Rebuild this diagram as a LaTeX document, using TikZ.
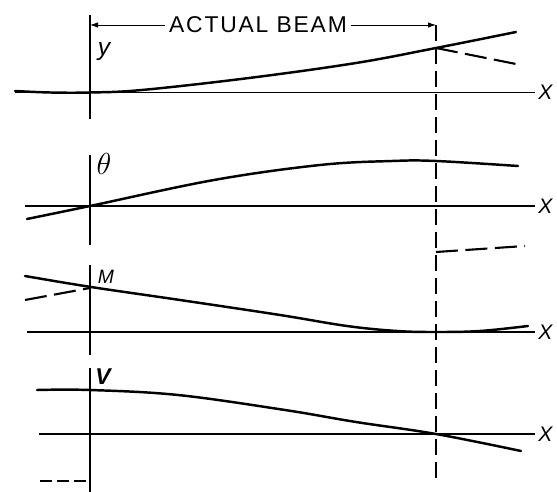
\documentclass[tikz,border=0pt]{standalone}
\usepackage{fontspec}
\newfontfamily\beamfont[LetterSpace=8]{Liberation Sans}
\newfontfamily\lblfont{Liberation Sans}
\usepackage{tikz}
\usetikzlibrary{arrows.meta}

\begin{document}
\begin{tikzpicture}[
  x=0.2mm, y=-0.2mm,
  axis/.style={line width=0.7pt},
  curve/.style={line width=1.4pt, line cap=round},
  ref/.style={line width=1pt},
  guide/.style={line width=0.9pt, dash pattern=on 3.2mm off 1.4mm},
  alt/.style={line width=1.2pt, dash pattern=on 4.4mm off 1.5mm},
  dim/.style={-{Latex[length=1.6mm,width=1.1mm]}, line width=0.5pt},
  lbl/.style={font=\lblfont\itshape\fontsize{14}{16}\selectfont, inner sep=0pt}
]
\useasboundingbox (0,0) rectangle (557,492);

% span of the beam
\coordinate (bl) at (90,25);
\coordinate (br) at (436,25);
\node[font=\beamfont\fontsize{13}{15}\selectfont, inner sep=2pt] (beam) at (258,25) {ACTUAL BEAM};
\draw[dim] (beam.west) -- (bl);
\draw[dim] (beam.east) -- (br);

% axes
\foreach \yy/\xs/\i in {92.5/15/1, 206/25/2, 332/27/3, 434/39/4} {
  \draw[axis] (\xs,\yy) -- (535,\yy) node[lbl, font=\lblfont\itshape\fontsize{12}{14}\selectfont, right=1.5pt] (x\i) {X};
}
\foreach \a/\b in {15/119, 155/245, 265/355, 368/492} {
  \draw[ref] (90,\a) -- (90,\b);
}
\draw[guide] (br) -- (436,482);

% labels
\node[lbl] (ly) at (104,52) {y};
\node[inner sep=0pt, font=\fontsize{17}{19}\selectfont] (lth) at (104,164) {$\theta$};
\node[lbl, font=\lblfont\itshape\fontsize{11}{13}\selectfont] (lm) at (106,277) {M};
\node[lbl, font=\lblfont\bfseries\itshape\fontsize{13}{15}\selectfont] (lv) at (103,377) {V};

% curves
\draw[curve] plot[smooth, tension=0.6] coordinates {(15,91) (50,92.5) (90,92.5) (142,90) (249,78) (356,63) (436,48) (516,32)};
\draw[alt] (436,48) -- (516,64);

\draw[curve] plot[smooth, tension=0.6] coordinates {(27,219) (90,206) (214,180) (320,165) (392,161) (436,161) (518,166)};
\draw[alt] (436,252) -- (525,246);

\draw[curve] plot[smooth, tension=0.6] coordinates {(25,276) (91,287) (180,300) (280,315) (347,326) (397,331) (436,332) (480,331) (528,326)};
\draw[alt] (25,300) -- (90,288);

\draw[curve] plot[smooth, tension=0.6] coordinates {(37,390) (90,390) (178,395) (285,410) (356,422) (436,434) (521,451)};
\draw[alt, dash pattern=on 2.4mm off 1mm] (40,481) -- (88,481);
\end{tikzpicture}
\end{document}
